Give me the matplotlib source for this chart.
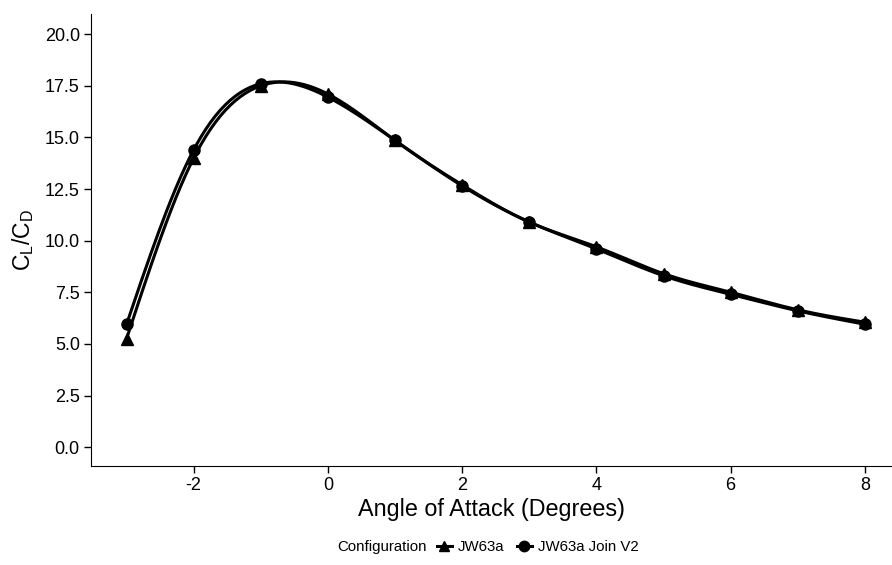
import numpy as np
import matplotlib
matplotlib.use("Agg")
import matplotlib.pyplot as plt
from matplotlib.lines import Line2D

plt.rcParams['font.family'] = ['Liberation Sans', 'DejaVu Sans']
plt.rcParams['axes.unicode_minus'] = False

# angle of attack (degrees)
alpha = [-3, -2, -1, 0, 1, 2, 3, 4, 5, 6, 7, 8]
# lift to drag ratio
ld_jw63a = [5.25, 14.0, 17.5, 17.1, 14.85, 12.7, 10.9, 9.7, 8.4, 7.5, 6.65, 6.05]
ld_join_v2 = [5.95, 14.4, 17.6, 16.95, 14.85, 12.65, 10.9, 9.6, 8.3, 7.4, 6.6, 5.95]


def natural_spline(x, y, n=300):
    # natural cubic spline through the points, for the smooth curve
    x = np.asarray(x, float)
    y = np.asarray(y, float)
    k = len(x)
    h = np.diff(x)
    A = np.zeros((k, k))
    b = np.zeros(k)
    A[0, 0] = A[-1, -1] = 1
    for i in range(1, k - 1):
        A[i, i - 1] = h[i - 1]
        A[i, i] = 2 * (h[i - 1] + h[i])
        A[i, i + 1] = h[i]
        b[i] = 3 * ((y[i + 1] - y[i]) / h[i] - (y[i] - y[i - 1]) / h[i - 1])
    c = np.linalg.solve(A, b)
    xs = np.linspace(x[0], x[-1], n)
    idx = np.clip(np.searchsorted(x, xs) - 1, 0, k - 2)
    dx = xs - x[idx]
    bb = (y[idx + 1] - y[idx]) / h[idx] - h[idx] * (2 * c[idx] + c[idx + 1]) / 3
    dd = (c[idx + 1] - c[idx]) / (3 * h[idx])
    ys = y[idx] + bb * dx + c[idx] * dx ** 2 + dd * dx ** 3
    return xs, ys


fig = plt.figure(figsize=(8.92, 5.65), dpi=100)
ax = fig.add_axes([0.102, 0.175, 0.897, 0.8])

for vals, mk in [(ld_jw63a, '^'), (ld_join_v2, 'o')]:
    xs, ys = natural_spline(alpha, vals)
    ax.plot(xs, ys, color='black', linewidth=2.2)
    ax.plot(alpha, vals, linestyle='none', marker=mk, color='black', markersize=8)

ax.set_xlim(-3.53, 8.39)
ax.set_ylim(-0.92, 20.97)
ax.set_xticks([-2, 0, 2, 4, 6, 8])
ax.set_yticks(np.arange(0, 20.1, 2.5))
ax.set_yticklabels([f"{v:.1f}" for v in np.arange(0, 20.1, 2.5)])
ax.spines['top'].set_visible(False)
ax.spines['right'].set_visible(False)
ax.tick_params(direction='out', length=5, width=1, labelsize=13, colors='black', pad=3)
ax.set_xlabel('Angle of Attack (Degrees)', fontsize=16.8, labelpad=3)
ax.set_ylabel(r'$\mathregular{C_L/C_D}$', fontsize=16.5, labelpad=6)

handles = [Line2D([], [], color='black', linewidth=2.2, marker='^', markersize=7.5),
           Line2D([], [], color='black', linewidth=2.2, marker='o', markersize=7.5)]
fig.text(0.478, 0.032, 'Configuration', fontsize=10.8, ha='right', va='center')
fig.legend(handles, ['JW63a', 'JW63a Join V2'], ncol=2, frameon=False,
           loc='center left', bbox_to_anchor=(0.481, 0.032), fontsize=10.8,
           handlelength=1.0, handletextpad=0.4, columnspacing=0.85, borderpad=0)

fig.savefig('out.png', dpi=100)
